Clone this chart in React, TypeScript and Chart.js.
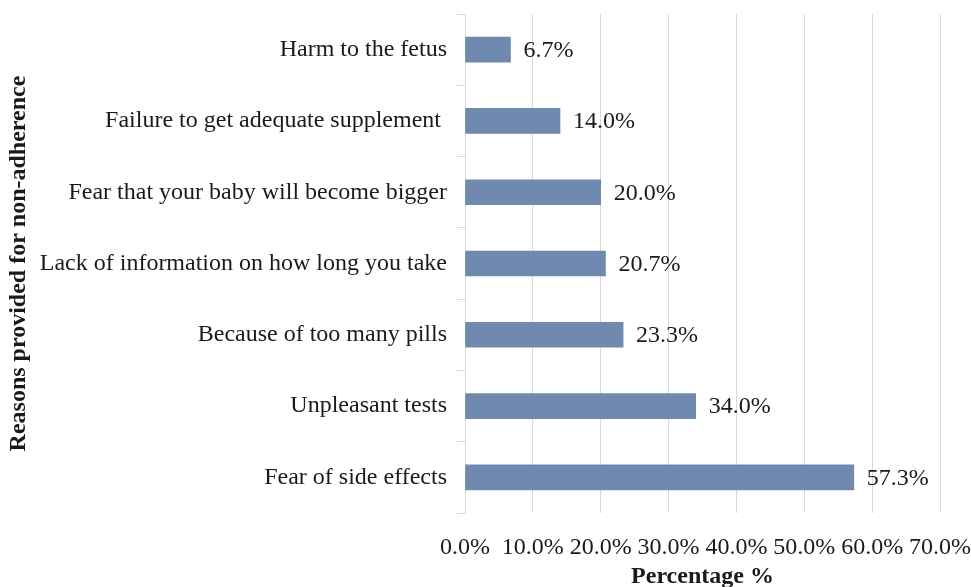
import React, { useEffect, useRef } from "react";
import { Chart, registerables } from "chart.js";

Chart.register(...registerables);

const categories = [
  "Harm to the fetus",
  "Failure to get adequate supplement ",
  "Fear that your baby will become bigger",
  "Lack of information on how long you take",
  "Because of too many pills",
  "Unpleasant tests",
  "Fear of side effects",
];
const values = [6.7, 14.0, 20.0, 20.7, 23.3, 34.0, 57.3];
const xTicks = [0, 10, 20, 30, 40, 50, 60, 70];

const FONT = "'Liberation Serif', 'Times New Roman', serif";

const valueLabels = {
  id: "valueLabels",
  afterDatasetsDraw(chart: any) {
    const ctx = chart.ctx;
    const meta = chart.getDatasetMeta(0);
    ctx.save();
    ctx.font = `24px ${FONT}`;
    ctx.fillStyle = "#1a1a1a";
    ctx.textAlign = "left";
    ctx.textBaseline = "middle";
    meta.data.forEach((bar: any, i: number) => {
      ctx.fillText(values[i].toFixed(1) + "%", bar.x + 13, bar.y + 1);
    });
    ctx.restore();
  },
};

export default function App() {
  const ref = useRef<HTMLCanvasElement>(null);
  useEffect(() => {
    if (!ref.current) return;
    const chart = new Chart(ref.current, {
      type: "bar",
      data: {
        labels: categories,
        datasets: [
          {
            data: values,
            backgroundColor: "#7089af",
            barThickness: 25,
          },
        ],
      },
      options: {
        indexAxis: "y",
        responsive: false,
        animation: false,
        layout: { padding: { top: 14, right: 31, left: 0, bottom: 0 } },
        plugins: { legend: { display: false }, tooltip: { enabled: false } },
        scales: {
          x: {
            min: 0,
            max: 70,
            afterBuildTicks: (s: any) => {
              s.ticks = xTicks.map((v) => ({ value: v }));
            },
            afterFit: (s: any) => {
              s.height = 74;
              s.paddingLeft = 0;
              s.paddingRight = 0;
            },
            grid: { color: "#d9d9d9", drawTicks: false },
            border: { display: false },
            ticks: {
              padding: 20,
              color: "#1a1a1a",
              font: { family: FONT, size: 24 },
              callback: (v: any) => Number(v).toFixed(1) + "%",
              maxRotation: 0,
              autoSkip: false,
            },
            title: {
              display: true,
              text: "Percentage %",
              color: "#1a1a1a",
              font: { family: FONT, size: 24, weight: "bold" },
              padding: { top: 0, bottom: -4 },
            },
          },
          y: {
            afterFit: (s: any) => {
              s.width = 465;
              s.paddingTop = 0;
              s.paddingBottom = 0;
            },
            grid: {
              offset: true,
              drawOnChartArea: false,
              drawTicks: true,
              tickLength: 8,
              color: "#d9d9d9",
            },
            border: { display: true, color: "#d9d9d9" },
            ticks: {
              padding: 10,
              color: "#1a1a1a",
              font: { family: FONT, size: 24 },
              autoSkip: false,
            },
            title: {
              display: true,
              text: "Reasons provided for non-adherence",
              color: "#1a1a1a",
              font: { family: FONT, size: 24, weight: "bold" },
              padding: { top: 4, bottom: 0 },
            },
          },
        },
      },
      plugins: [valueLabels],
    });
    return () => chart.destroy();
  }, []);
  return (
    <div style={{ position: "fixed", left: 0, top: 0, width: 971, height: 587, background: "#fff" }}>
      <canvas ref={ref} width={971} height={587} />
    </div>
  );
}
